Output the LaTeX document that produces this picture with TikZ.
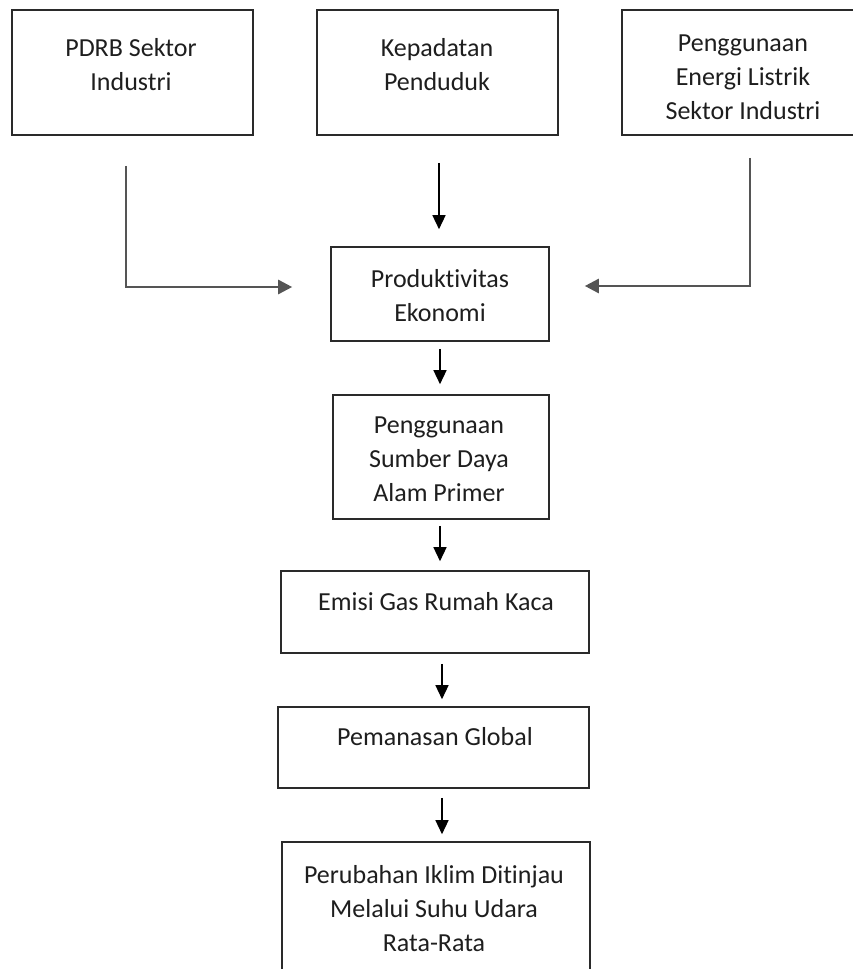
\documentclass[tikz,border=0pt]{standalone}
\usepackage{fontspec}
\setmainfont{Carlito}[RawFeature={-liga}]
\usetikzlibrary{arrows.meta}
\definecolor{boxline}{HTML}{2A2A2A}
\definecolor{greyline}{HTML}{555555}
\definecolor{txt}{HTML}{1E1E1E}
\tikzset{
  box/.style={draw=boxline, line width=1.6pt, rectangle, inner sep=0pt},
  lbl/.style={align=center, text=txt, font=\fontsize{26}{34}\selectfont, inner sep=0pt},
  sidearrow/.style={draw=greyline, line width=2.6pt, -{Triangle[length=14pt,width=14pt]}},
  downarrow/.style={draw=black, line width=1.4pt, -{Triangle[length=14pt,width=13pt]}}
}
\begin{document}
\begin{tikzpicture}[x=1pt,y=-1pt]
\useasboundingbox (0,0) rectangle (853,969);
\clip (0,0) rectangle (853,969);
% top boxes
\node[box, minimum width=241pt, minimum height=125pt] (b1) at (132.5,72.5) {};
\node[box, minimum width=241pt, minimum height=125pt] (b2) at (437.5,72.5) {};
\node[box, minimum width=242pt, minimum height=125pt] (b3) at (743,72.5) {};
\node[lbl] (t1) at (131,65) {PDRB Sektor\\Industri};
\node[lbl] (t2) at (437,65) {Kepadatan\\Penduduk};
\node[lbl] (t3) at (743,77) {Penggunaan\\Energi Listrik\\Sektor Industri};
% chain
\node[box, minimum width=218pt, minimum height=94pt] (prod) at (440,294) {};
\node[lbl] (tprod) at (440,296) {Produktivitas\\Ekonomi};
\node[box, minimum width=216pt, minimum height=124pt] (sda) at (441,457) {};
\node[lbl] (tsda) at (439,459) {Penggunaan\\Sumber Daya\\Alam Primer};
\node[box, minimum width=308pt, minimum height=82pt] (emisi) at (435,612) {};
\node[lbl] (temisi) at (436,602) {Emisi Gas Rumah Kaca};
\node[box, minimum width=311pt, minimum height=81pt] (pem) at (433.5,747.5) {};
\node[lbl] (tpem) at (435,737) {Pemanasan Global};
\node[box, minimum width=308pt, minimum height=170pt] (per) at (436,927) {};
\node[lbl] (tper) at (434,909) {Perubahan Iklim Ditinjau\\Melalui Suhu Udara\\Rata-Rata};
% connectors
\draw[sidearrow] ([xshift=-6.5pt,yshift=-30pt]b1.south) |- ([xshift=-38pt,yshift=7pt]prod.west);
\draw[downarrow] ([xshift=1.5pt,yshift=-27pt]b2.south) -- ([xshift=-1pt,yshift=17pt]prod.north);
\draw[sidearrow] ([xshift=7pt,yshift=-22pt]b3.south) |- ([xshift=35pt,yshift=8pt]prod.east);
\draw[downarrow] ([yshift=-7pt]prod.south) -- ([xshift=-1pt,yshift=10pt]sda.north);
\draw[downarrow] ([xshift=-1pt,yshift=-6pt]sda.south) -- ([xshift=5pt,yshift=9pt]emisi.north);
\draw[downarrow] ([xshift=7pt,yshift=-10pt]emisi.south) -- ([xshift=8.5pt,yshift=7pt]pem.north);
\draw[downarrow] ([xshift=8.5pt,yshift=-9pt]pem.south) -- ([xshift=6pt,yshift=7pt]per.north);
\end{tikzpicture}
\end{document}
